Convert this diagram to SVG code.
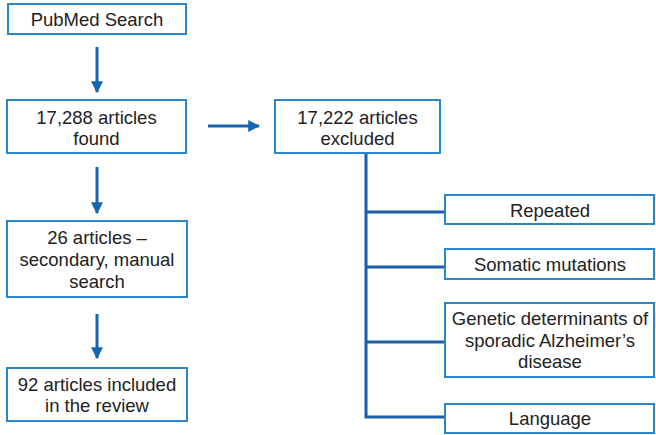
<svg xmlns="http://www.w3.org/2000/svg" width="656" height="435" viewBox="0 0 656 435">
<defs>
<marker id="ah" viewBox="0 0 10 10" refX="9" refY="5" markerWidth="4" markerHeight="4" orient="auto" markerUnits="strokeWidth">
<path d="M0,0 L10,5 L0,10 z" fill="#1566ad"/>
</marker>
</defs>
<style>
.box{fill:#fff;stroke:#2b86c9;stroke-width:2}
.t{font-family:"Liberation Sans",Arial,sans-serif;font-size:18.5px;fill:#222;text-anchor:middle}
.arr{stroke:#1566ad;stroke-width:3;fill:none}
.ln{stroke:#1a5fa8;stroke-width:3;fill:none}
</style>
<rect width="656" height="435" fill="#fff"/>
<g id="connectors">
<line class="arr" x1="97" y1="47" x2="97" y2="92" marker-end="url(#ah)"/>
<line class="arr" x1="208" y1="126" x2="259" y2="126" marker-end="url(#ah)"/>
<line class="arr" x1="97" y1="167" x2="97" y2="213" marker-end="url(#ah)"/>
<line class="arr" x1="97" y1="314" x2="97" y2="358" marker-end="url(#ah)"/>
<polyline class="ln" points="366,153 366,417 445,417"/>
<line class="ln" x1="366" y1="212" x2="445" y2="212"/>
<line class="ln" x1="366" y1="267" x2="445" y2="267"/>
<line class="ln" x1="366" y1="342" x2="445" y2="342"/>
</g>
<g id="pubmed">
<rect class="box" x="8" y="4" width="178" height="30"/>
<text class="t" x="97" y="26">PubMed Search</text>
</g>
<g id="found">
<rect class="box" x="7" y="100" width="179" height="53"/>
<text class="t" x="96.5" y="124">17,288 articles</text>
<text class="t" x="96.5" y="145">found</text>
</g>
<g id="excluded">
<rect class="box" x="275" y="100" width="165" height="53"/>
<text class="t" x="357.5" y="124">17,222 articles</text>
<text class="t" x="357.5" y="145">excluded</text>
</g>
<g id="secondary">
<rect class="box" x="7" y="221" width="180" height="76"/>
<text class="t" x="97" y="244">26 articles –</text>
<text class="t" x="97" y="266">secondary, manual</text>
<text class="t" x="97" y="288">search</text>
</g>
<g id="included">
<rect class="box" x="7" y="368" width="180" height="53"/>
<text class="t" x="97" y="391">92 articles included</text>
<text class="t" x="97" y="412">in the review</text>
</g>
<g id="repeated">
<rect class="box" x="445" y="195" width="209" height="29"/>
<text class="t" x="550" y="216.5">Repeated</text>
</g>
<g id="somatic">
<rect class="box" x="445" y="249" width="209" height="30"/>
<text class="t" x="550" y="271">Somatic mutations</text>
</g>
<g id="genetic">
<rect class="box" x="445" y="303" width="209" height="74"/>
<text class="t" x="550" y="325">Genetic determinants of</text>
<text class="t" x="550" y="346.5">sporadic Alzheimer’s</text>
<text class="t" x="550" y="368">disease</text>
</g>
<g id="language">
<rect class="box" x="445" y="404" width="209" height="29"/>
<text class="t" x="550" y="425">Language</text>
</g>
</svg>
